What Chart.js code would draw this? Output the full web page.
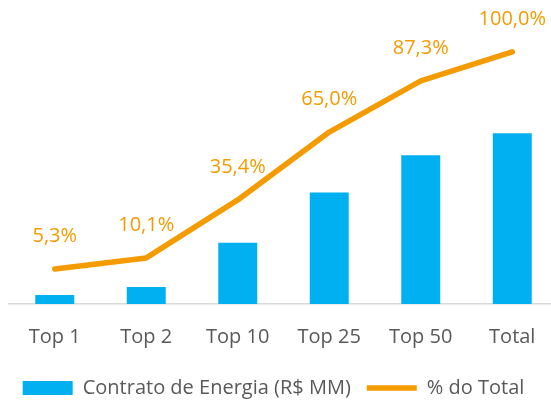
<!DOCTYPE html>
<html>
<head>
<meta charset="utf-8">
<script src="https://cdn.jsdelivr.net/npm/chart.js@4/dist/chart.umd.min.js"></script>
<style>
html,body{margin:0;padding:0;overflow:hidden;background:#fff;}
#wrap{position:absolute;left:0;top:0;width:560px;height:408px;}
</style>
</head>
<body>
<div id="wrap"><canvas id="c" width="560" height="408"></canvas></div>
<script>
const categories = ["Top 1", "Top 2", "Top 10", "Top 25", "Top 50", "Total"];
const contratoEnergia = [53, 100, 359, 653, 871, 1000];
const percentTotal = [5.3, 10.1, 35.4, 65.0, 87.3, 100.0];
const percentLabels = ["5,3%", "10,1%", "35,4%", "65,0%", "87,3%", "100,0%"];

const BLUE = "#00B0F0";
const ORANGE = "#F39B00";
const GREY_TEXT = "#595959";
const FONT = "'Open Sans', sans-serif";

const labelPlugin = {
  id: "pctLabels",
  afterLayout(chart) {
    if (chart.legend) { chart.legend.left -= 10; chart.legend.right -= 10; }
  },
  afterDatasetsDraw(chart) {
    const ctx = chart.ctx;
    const meta = chart.getDatasetMeta(1);
    ctx.save();
    ctx.font = "20px " + FONT;
    ctx.fillStyle = ORANGE;
    ctx.textAlign = "center";
    ctx.textBaseline = "middle";
    meta.data.forEach((pt, i) => {
      ctx.fillText(percentLabels[i], pt.x, pt.y - 33);
    });
    ctx.restore();
  }
};

new Chart(document.getElementById("c"), {
  data: {
    labels: categories,
    datasets: [
      {
        type: "bar",
        label: "Contrato de Energia (R$ MM)",
        data: contratoEnergia,
        backgroundColor: BLUE,
        yAxisID: "y",
        barPercentage: 0.426,
        categoryPercentage: 1.0,
        pointStyle: "rect",
        order: 2
      },
      {
        type: "line",
        label: "% do Total",
        data: percentTotal,
        borderColor: ORANGE,
        backgroundColor: ORANGE,
        borderWidth: 5.5,
        borderCapStyle: "round",
        borderJoinStyle: "round",
        pointRadius: 0,
        tension: 0,
        yAxisID: "y2",
        pointStyle: "line",
        order: 1
      }
    ]
  },
  options: {
    responsive: false,
    animation: false,
    events: [],
    layout: { padding: { left: 9, right: 2, top: 6, bottom: 0 } },
    plugins: {
      tooltip: { enabled: false },
      legend: {
        position: "bottom",
        labels: {
          usePointStyle: true,
          pointStyleWidth: 50,
          boxHeight: 14,
          color: GREY_TEXT,
          font: { family: FONT, size: 20 },
          padding: 16,
          sort: (a, b) => a.datasetIndex - b.datasetIndex
        }
      }
    },
    scales: {
      x: {
        grid: { display: false, drawTicks: false },
        border: { display: true, color: "#D9D9D9", width: 1.5 },
        ticks: { color: GREY_TEXT, font: { family: FONT, size: 20 }, padding: 21, maxRotation: 0 },
        afterFit(scale) { scale.height -= 8; }
      },
      y: { display: false, min: 0, max: 1745 },
      y2: { display: false, min: -10, max: 120 }
    }
  },
  plugins: [labelPlugin]
});
</script>
</body>
</html>
